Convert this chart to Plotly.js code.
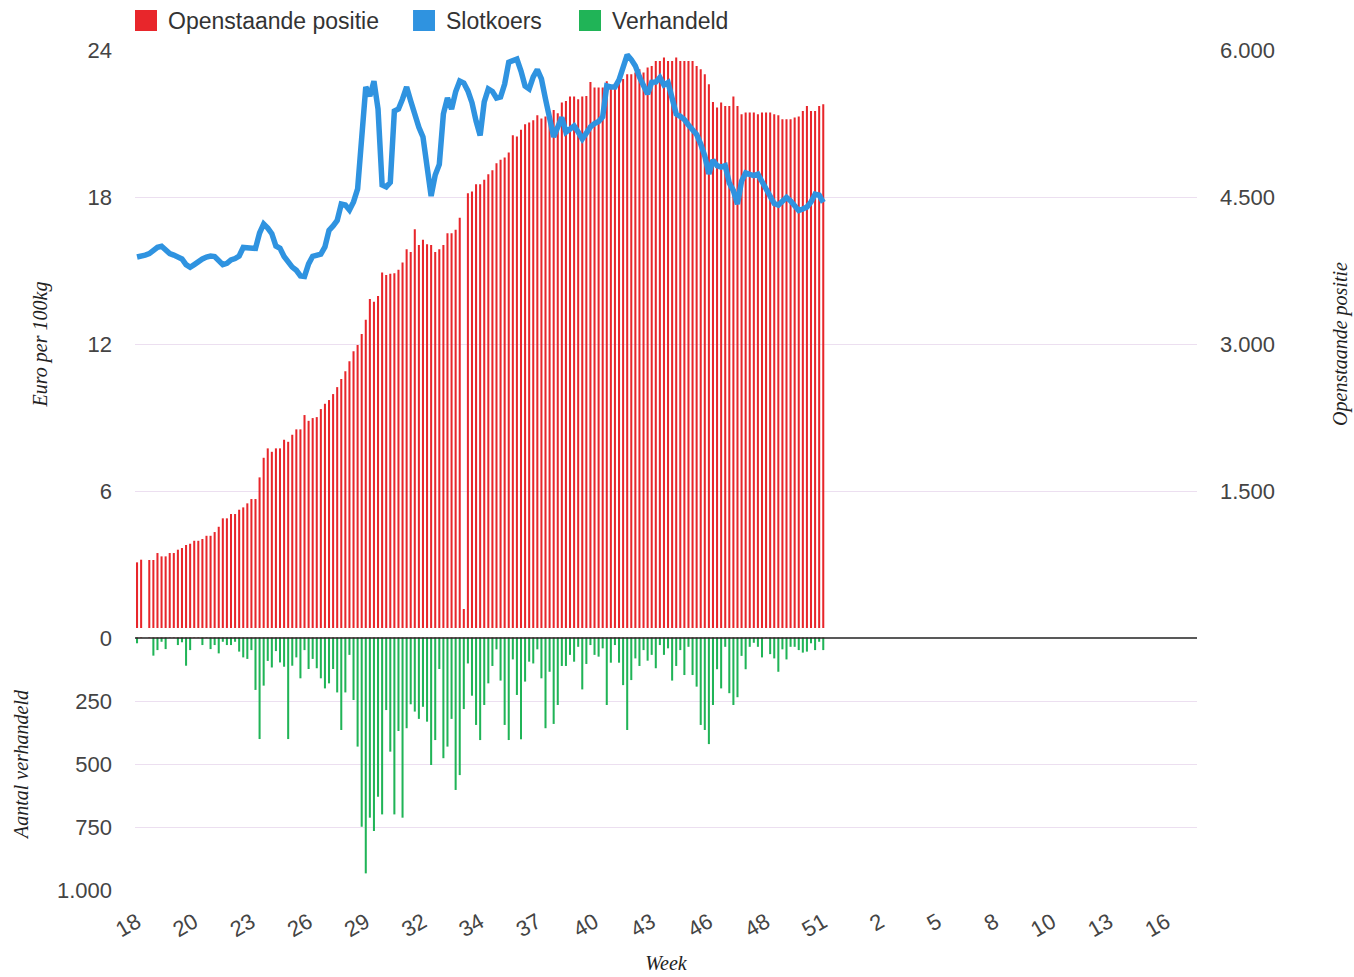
<!DOCTYPE html>
<html><head><meta charset="utf-8">
<script src="https://cdn.plot.ly/plotly-3.0.1.min.js"></script>
<style>html,body{margin:0;padding:0;background:#fff}#chart{width:1354px;height:977px}</style>
</head><body><div id="chart"></div>
<script>
// Week labels shown on the x axis (one every 14 trading days, starting at week 18)
const weekTicks = ['18','20','23','26','29','32','34','37','40','43','46','48','51','2','5','8','10','13','16'];
const daysPerTick = 14;
const totalDays = 260;

// Openstaande positie (contracts), one value per trading day from week 18
const openPosition = [
  772, 799, null, 796, 796, 867, 833, 833, 867, 867,
  901, 918, 949, 962, 992, 992, 1010, 1043, 1043, 1081,
  1135, 1221, 1221, 1265, 1265, 1309, 1333, 1374, 1418, 1418,
  1639, 1839, 1935, 1900, 1935, 1935, 2023, 2002, 2074, 2129,
  2129, 2275, 2216, 2244, 2254, 2336, 2390, 2428, 2489, 2560,
  2642, 2723, 2825, 2927, 2989, 3101, 3247, 3458, 3430, 3491,
  3730, 3703, 3716, 3723, 3757, 3832, 3968, 3940, 4172, 4009,
  4063, 4019, 4009, 3940, 3968, 4009, 4131, 4131, 4165, 4287,
  296, 4539, 4556, 4631, 4631, 4675, 4733, 4774, 4845, 4879,
  4903, 4954, 5131, 5117, 5185, 5243, 5260, 5284, 5335, 5301,
  5321, 5355, 5389, 5355, 5464, 5480, 5525, 5525, 5498, 5525,
  5531, 5674, 5617, 5617, 5617, 5681, 5630, 5661, 5676, 5705,
  5753, 5753, 5770, 5804, 5770, 5821, 5837, 5888, 5888, 5923,
  5888, 5888, 5923, 5888, 5888, 5888, 5888, 5837, 5804, 5753,
  5651, 5470, 5413, 5464, 5429, 5429, 5525, 5429, 5345, 5362,
  5362, 5362, 5345, 5362, 5362, 5362, 5345, 5335, 5294, 5294,
  5294, 5311, 5321, 5378, 5429, 5378, 5378, 5429, 5447
];

// Slotkoers (euro per 100kg)
const slotkoers = [
  15.55, 15.57, 15.63, 15.69, 15.82, 15.95, 15.99, 15.82, 15.69, 15.63,
  15.57, 15.47, 15.24, 15.13, 15.24, 15.37, 15.47, 15.55, 15.59, 15.57,
  15.40, 15.24, 15.29, 15.43, 15.49, 15.59, 15.94, 15.94, 15.92, 15.90,
  16.53, 16.90, 16.73, 16.50, 16.00, 15.91, 15.57, 15.31, 15.14, 15.01,
  14.78, 14.76, 15.27, 15.58, 15.63, 15.67, 15.96, 16.64, 16.82, 17.04,
  17.71, 17.67, 17.47, 17.80, 18.33, 20.16, 22.49, 22.12, 22.73, 21.59,
  18.49, 18.41, 18.60, 21.51, 21.59, 22.00, 22.49, 21.92, 21.27, 20.84,
  20.45, 19.27, 18.04, 18.90, 19.33, 21.39, 22.04, 21.59, 22.29, 22.73,
  22.65, 22.33, 21.85, 21.10, 20.51, 21.88, 22.41, 22.31, 22.04, 22.08,
  22.61, 23.50, 23.56, 23.63, 23.14, 22.53, 22.41, 22.90, 23.20, 22.82,
  22.00, 21.27, 20.45, 20.86, 21.25, 20.65, 20.78, 20.90, 20.65, 20.37,
  20.61, 20.86, 21.00, 21.08, 21.27, 22.53, 22.49, 22.49, 22.78, 23.22,
  23.80, 23.61, 23.35, 22.90, 22.53, 22.20, 22.68, 22.69, 22.88, 22.57,
  22.67, 21.98, 21.39, 21.29, 21.16, 20.94, 20.73, 20.55, 20.16, 19.67,
  18.94, 19.51, 19.28, 19.22, 19.28, 18.57, 18.26, 17.71, 18.65, 18.98,
  18.92, 18.87, 18.93, 18.61, 18.37, 18.00, 17.73, 17.67, 17.80, 17.98,
  17.84, 17.63, 17.45, 17.51, 17.59, 17.80, 18.12, 18.08, 17.78
];

// Verhandeld (aantal contracten per dag)
const verhandeld = [
  21, 0, 0, 0, 70, 48, 15, 44, 0, 0,
  28, 17, 110, 48, 0, 0, 28, 0, 44, 28,
  61, 15, 28, 28, 15, 54, 77, 83, 48, 206,
  401, 189, 91, 117, 52, 97, 114, 401, 110, 77,
  160, 48, 123, 83, 120, 160, 200, 180, 123, 216,
  365, 216, 67, 246, 431, 749, 934, 713, 766, 630,
  700, 286, 451, 700, 369, 713, 358, 263, 292, 321,
  273, 332, 504, 405, 123, 477, 431, 321, 603, 544,
  282, 101, 229, 345, 405, 266, 180, 111, 45, 169,
  345, 405, 85, 226, 402, 173, 94, 101, 45, 160,
  358, 134, 341, 266, 111, 111, 67, 94, 35, 204,
  103, 28, 67, 74, 41, 266, 98, 28, 98, 187,
  365, 167, 81, 111, 48, 90, 67, 120, 28, 67,
  41, 169, 111, 48, 147, 35, 147, 193, 345, 365,
  421, 266, 124, 200, 35, 219, 266, 235, 71, 124,
  35, 19, 35, 77, 0, 64, 81, 134, 45, 85,
  35, 35, 48, 58, 54, 21, 48, 15, 48
];

const leftTicks = [6, 12, 18, 24];
const rightTicks = [1500, 3000, 4500, 6000];
const volumeTicks = [0, 250, 500, 750, 1000];

const RED = '#e8262b', BLUE = '#2f93e0', GREEN = '#20b457';
const GRID = '#ecdff0';
const TEXT = '#444';
const SANS = 'Liberation Sans, Arial, sans-serif';
const SERIF = 'Liberation Serif, Times New Roman, serif';

const days = openPosition.map((_, i) => i);
const tickPositions = weekTicks.map((_, k) => k * daysPerTick);
const nl = n => n.toLocaleString('de-DE');

const traces = [
  { type: 'bar', name: 'Openstaande positie', x: days, y: openPosition,
    xaxis: 'x', yaxis: 'y2', width: 0.5, marker: { color: RED, line: { width: 0 } } },
  { type: 'scatter', mode: 'lines', name: 'Slotkoers', x: days, y: slotkoers,
    xaxis: 'x', yaxis: 'y3', line: { color: BLUE, width: 5.5, shape: 'linear' } },
  { type: 'bar', name: 'Verhandeld', x: days, y: verhandeld,
    xaxis: 'x', yaxis: 'y', width: 0.5, marker: { color: GREEN, line: { width: 0 } } }
];

const titleFont = { family: SERIF, style: 'italic', size: 20, color: '#222' };
const tickFont = { family: SANS, size: 22, color: TEXT };

const legendItems = [
  { label: 'Openstaande positie', color: RED, x: 0 },
  { label: 'Slotkoers', color: BLUE, x: 0.2618 },
  { label: 'Verhandeld', color: GREEN, x: 0.4181 }
];
const sq = 0.0207;
const shapes = [
  { type: 'rect', xref: 'paper', yref: 'paper', x0: 0, x1: 1, y0: 0.3006, y1: 0.3119,
    fillcolor: '#fff', line: { width: 0 }, layer: 'above' },
  { type: 'line', xref: 'paper', yref: 'paper', x0: 0, x1: 1, y0: 0.3, y1: 0.3,
    line: { color: '#222', width: 1.5 }, layer: 'above' }
].concat(legendItems.map(it => ({
  type: 'rect', xref: 'paper', yref: 'paper', x0: it.x, x1: it.x + sq, y0: 1.0226, y1: 1.0476,
  fillcolor: it.color, line: { width: 0 }
})));
const annotations = legendItems.map(it => ({
  xref: 'paper', yref: 'paper', x: it.x + sq + 0.0085, y: 1.0351, xanchor: 'left', yanchor: 'middle',
  text: it.label, showarrow: false, font: { family: SANS, size: 23, color: '#333' }
}));

const layout = {
  width: 1354, height: 977,
  margin: { l: 135, r: 157, t: 50, b: 87 },
  paper_bgcolor: '#fff', plot_bgcolor: '#fff',
  showlegend: false,
  font: { family: SANS, size: 22, color: TEXT },
  xaxis: {
    anchor: 'y', range: [-0.5, totalDays - 0.5], tickmode: 'array',
    tickvals: tickPositions, ticktext: weekTicks, tickangle: -30,
    showgrid: false, zeroline: false, showline: false, ticks: '',
    ticklabelstandoff: 14, tickfont: tickFont,
    title: { text: 'Week', font: titleFont, standoff: 14 }
  },
  yaxis: {
    anchor: 'x', domain: [0, 0.3], range: [1000, 0], tickmode: 'array',
    tickvals: volumeTicks, ticktext: volumeTicks.map(nl),
    gridcolor: GRID, gridwidth: 1, zeroline: false, showline: false, ticks: '',
    ticklabelstandoff: 22, tickfont: tickFont,
    title: { text: 'Aantal verhandeld', font: titleFont, standoff: 22 }
  },
  yaxis2: {
    anchor: 'x', domain: [0.3, 1], range: [0, 6000], side: 'right', tickmode: 'array',
    tickvals: rightTicks, ticktext: rightTicks.map(nl),
    gridcolor: GRID, gridwidth: 1, zeroline: false, showline: false, ticks: '',
    ticklabelstandoff: 22, tickfont: tickFont,
    title: { text: 'Openstaande positie', font: titleFont, standoff: 58 }
  },
  yaxis3: {
    anchor: 'x', overlaying: 'y2', side: 'left', range: [0, 24], tickmode: 'array',
    tickvals: leftTicks, showgrid: false, zeroline: false, showline: false, ticks: '',
    ticklabelstandoff: 22, tickfont: tickFont,
    title: { text: 'Euro per 100kg', font: titleFont, standoff: 34 }
  },
  shapes: shapes,
  annotations: annotations
};

Plotly.newPlot('chart', traces, layout, { displayModeBar: false, staticPlot: true });
</script>
</body></html>
